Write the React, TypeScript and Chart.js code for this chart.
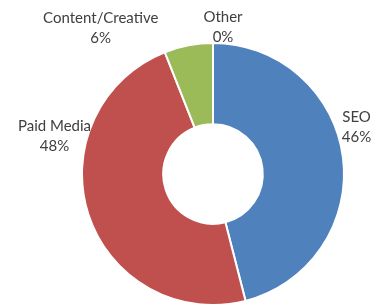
import React, { useEffect, useRef } from "react";
import { Chart, registerables } from "chart.js";

Chart.register(...registerables);

const categories = ["SEO", "Paid Media", "Content/Creative", "Other"];
const shares = [46, 48, 6, 0];
const colors = ["#4F81BD", "#C0504D", "#9BBB59", "#8064A2"];
// label placement around the ring: angle (deg, clockwise from top) and distance from centre
const labelAngles = [71.9, 283.5, 322.4, 3.9];
const labelDistances = [151, 163, 184, 147];

const labelPlugin = {
  id: "outsideLabels",
  afterDraw(chart: any) {
    const meta = chart.getDatasetMeta(0);
    const arc = meta.data[0];
    if (!arc) return;
    const { x: cx, y: cy } = arc;
    const ctx = chart.ctx;
    const data = chart.data.datasets[0].data as number[];
    const total = data.reduce((a, b) => a + b, 0);
    ctx.save();
    ctx.fillStyle = "#404040";
    ctx.font = "15px Lato, sans-serif";
    ctx.textAlign = "center";
    ctx.textBaseline = "middle";
    chart.data.labels.forEach((lab: string, i: number) => {
      const a = (labelAngles[i] * Math.PI) / 180;
      const d = labelDistances[i];
      const x = cx + d * Math.sin(a);
      const y = cy - d * Math.cos(a);
      const pct = Math.round((data[i] / total) * 100) + "%";
      ctx.fillText(lab, x, y - 10);
      ctx.fillText(pct, x, y + 10);
    });
    ctx.restore();
  },
};

export default function App() {
  const ref = useRef<HTMLCanvasElement>(null);
  useEffect(() => {
    if (!ref.current) return;
    const chart = new Chart(ref.current, {
      type: "doughnut",
      data: {
        labels: categories,
        datasets: [
          {
            data: shares,
            backgroundColor: colors,
            borderColor: "#ffffff",
            borderWidth: 2,
          },
        ],
      },
      options: {
        animation: false,
        responsive: true,
        maintainAspectRatio: false,
        cutout: "38%",
        layout: { padding: { top: 42, bottom: 0, left: 81, right: 40 } },
        plugins: {
          legend: { display: false },
          tooltip: { enabled: false },
        },
      },
      plugins: [labelPlugin],
    });
    return () => chart.destroy();
  }, []);
  return (
    <div style={{ position: "fixed", left: 0, top: 0, width: 385, height: 306, background: "#fff" }}>
      <canvas ref={ref} />
    </div>
  );
}
